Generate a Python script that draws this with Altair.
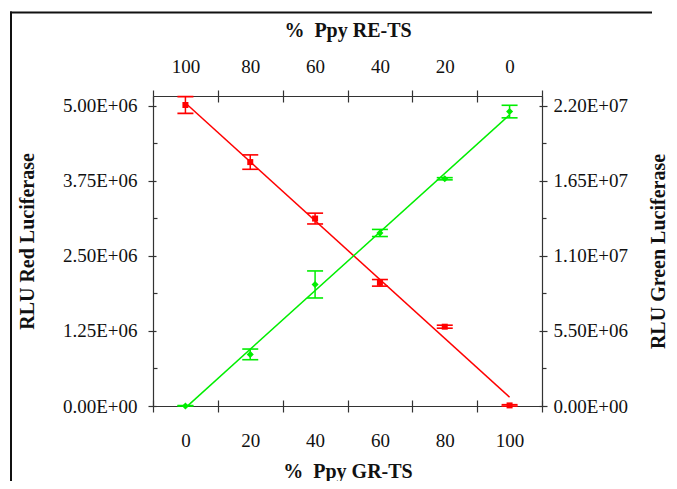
import altair as alt
import pandas as pd

# ---- data ----
pct_gr = [0, 20, 40, 60, 80, 100]
red_mean = [5.01e6, 4.06e6, 3.12e6, 2.05e6, 1.32e6, 0.01e6]
red_err = [0.14e6, 0.12e6, 0.09e6, 0.055e6, 0.025e6, 0.012e6]
green_mean = [0.0, 3.78e6, 8.9e6, 12.67e6, 16.64e6, 21.56e6]
green_err = [0.04e6, 0.39e6, 0.99e6, 0.26e6, 0.08e6, 0.46e6]

x_label_values = [0, 20, 40, 60, 80, 100]
x_tick_values = [-10, 10, 30, 50, 70, 90, 110]
left_values = [0, 1.25e6, 2.5e6, 3.75e6, 5.0e6]
left_minor = [0.625e6, 1.875e6, 3.125e6, 4.375e6]
right_values = [0, 5.5e6, 1.1e7, 1.65e7, 2.2e7]
right_minor = [2.75e6, 8.25e6, 1.375e7, 1.925e7]

df = pd.DataFrame({
    "x": pct_gr,
    "red": red_mean,
    "red_lo": [m - e for m, e in zip(red_mean, red_err)],
    "red_hi": [m + e for m, e in zip(red_mean, red_err)],
    "green": green_mean,
    "green_lo": [max(m - e, 0) for m, e in zip(green_mean, green_err)],
    "green_hi": [m + e for m, e in zip(green_mean, green_err)],
})

W, H = 389, 310
RED = "#ff0000"
GREEN = "#00ee00"
FONT = "Liberation Serif"
AX = "#333333"
EXPR = "replace(upper(format(datum.value, '.2e')), 'E+', 'E+0')"

xs = alt.Scale(domain=[-10, 110], nice=False, zero=False)
yl = alt.Scale(domain=[0, 5.16e6], nice=False, zero=False)
yr = alt.Scale(domain=[0, 2.27e7], nice=False, zero=False)

def tick_axis(orient, values, size, offset=0):
    kw = dict(orient=orient, values=values, labels=False, domain=False,
              ticks=True, tickSize=size, tickColor=AX, tickWidth=1.2,
              title=None, grid=False)
    if offset:
        kw["offset"] = offset
    return alt.Axis(**kw)

ax_bottom = alt.Axis(orient="bottom", values=x_label_values, ticks=False, tickSize=0,
                     labelPadding=25, domain=True, domainColor=AX, domainWidth=1.2,
                     title="%\u00a0 Ppy GR-TS", titleY=65, titleBaseline="middle",
                     grid=False)
ax_top = alt.Axis(orient="top", values=x_label_values, ticks=False, tickSize=0,
                  labelPadding=20, labelExpr="'' + (100 - datum.value)",
                  domain=True, domainColor=AX, domainWidth=1.2,
                  title="%\u00a0 Ppy RE-TS", titleY=-66, titleBaseline="middle",
                  grid=False)
ax_left = alt.Axis(orient="left", values=left_values, tickSize=5, tickColor=AX, tickWidth=1.2,
                   labelPadding=11, labelExpr=EXPR, domain=True, domainColor=AX,
                   domainWidth=1.2, title="RLU Red Luciferase", titleAngle=270,
                   titleX=-126, titleY=145, titleBaseline="middle", titleAlign="center",
                   grid=False)
ax_right = alt.Axis(orient="right", values=right_values, tickSize=5, tickColor=AX, tickWidth=1.2,
                    labelPadding=6, labelExpr=EXPR, domain=True, domainColor=AX,
                    domainWidth=1.2, title="RLU Green Luciferase", titleAngle=270,
                    titleX=116, titleY=155, titleBaseline="middle", titleAlign="center",
                    grid=False)

base = alt.Chart(df)

red_line = base.transform_regression("x", "red").mark_line(color=RED, strokeWidth=1.5).encode(
    x=alt.X("x:Q", scale=xs, axis=ax_bottom),
    y=alt.Y("red:Q", scale=yl, axis=ax_left),
)
red_pts = base.mark_point(shape="square", filled=True, size=36, color=RED, opacity=1).encode(
    x=alt.X("x:Q", scale=xs, axis=tick_axis("bottom", x_tick_values, 6)),
    y=alt.Y("red:Q", scale=yl, axis=tick_axis("left", left_values, 3, -3)),
)
red_rule = base.mark_rule(color=RED, strokeWidth=1.5).encode(
    x=alt.X("x:Q", scale=xs, axis=tick_axis("bottom", x_tick_values, 6, -6)),
    y=alt.Y("red_lo:Q", scale=yl, axis=tick_axis("left", left_minor, 4, -4)),
    y2="red_hi:Q",
)
red_caps = base.transform_fold(["red_lo", "red_hi"], as_=["k", "v"]).mark_tick(
    color=RED, orient="horizontal", size=16, thickness=1.6, opacity=1).encode(
    x=alt.X("x:Q", scale=xs, axis=ax_top),
    y=alt.Y("v:Q", scale=yl, axis=None),
)

green_line = base.transform_regression("x", "green").mark_line(color=GREEN, strokeWidth=1.5).encode(
    x=alt.X("x:Q", scale=xs, axis=tick_axis("top", x_tick_values, 6)),
    y=alt.Y("green:Q", scale=yr, axis=ax_right),
)
green_pts = base.mark_point(shape="diamond", filled=True, size=50, color=GREEN, opacity=1).encode(
    x=alt.X("x:Q", scale=xs, axis=tick_axis("top", x_tick_values, 6, -6)),
    y=alt.Y("green:Q", scale=yr, axis=tick_axis("right", right_values, 3, -3)),
)
green_rule = base.mark_rule(color=GREEN, strokeWidth=1.5).encode(
    x=alt.X("x:Q", scale=xs, axis=None),
    y=alt.Y("green_lo:Q", scale=yr, axis=tick_axis("right", right_minor, 4)),
    y2="green_hi:Q",
)
green_caps = base.transform_fold(["green_lo", "green_hi"], as_=["k", "v"]).mark_tick(
    color=GREEN, orient="horizontal", size=16, thickness=1.6, opacity=1).encode(
    x=alt.X("x:Q", scale=xs, axis=None),
    y=alt.Y("v:Q", scale=yr, axis=None),
)

# outer figure frame: its top and left edges
frame_src = alt.Chart(pd.DataFrame({"f": [0]}))
frame_left = frame_src.mark_rule(color="#111111", strokeWidth=2).encode(
    x=alt.value(-142), y=alt.value(-84.5), y2=alt.value(H + 75),
)
frame_top = frame_src.mark_rule(color="#111111", strokeWidth=2).encode(
    x=alt.value(-143), x2=alt.value(W + 110), y=alt.value(-83.5),
)

chart = alt.layer(
    frame_left, frame_top, red_line, green_line, red_rule, red_caps,
    green_rule, green_caps, red_pts, green_pts
).resolve_scale(y="independent").resolve_axis(x="independent", y="independent").properties(
    width=W, height=H,
    background="white",
    autosize=alt.AutoSizeParams(type="none"),
    padding={"left": 145, "top": 88, "right": 127, "bottom": 75},
).configure_view(stroke=None).configure_axis(
    labelFont=FONT, labelFontSize=19, labelColor="#111111",
    titleFont=FONT, titleFontSize=20, titleFontWeight="bold", titleColor="#111111",
)

chart.save("out.html", embed_options={"renderer": "svg", "actions": False})
